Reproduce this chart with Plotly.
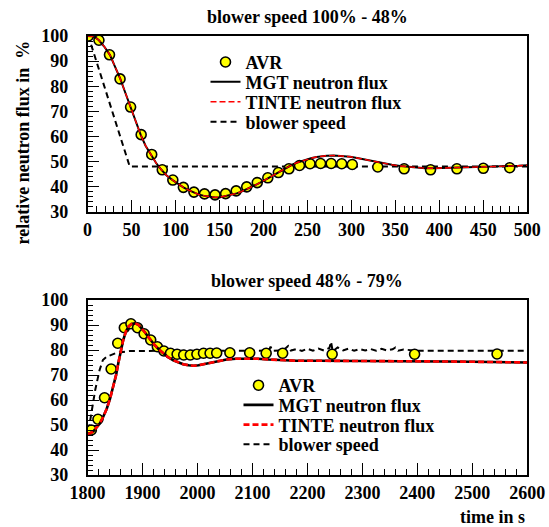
import plotly.graph_objects as go

# ---------------- data: top panel (blower speed 100% -> 48%) ----------------
avr1_t = [1, 13, 25, 37, 49, 61, 73, 85, 97, 109, 121, 133, 145, 157, 169, 181,
          193, 205, 217, 229, 241, 253, 265, 277, 289, 301, 330, 360, 390, 420, 450, 480]
avr1_v = [100.0, 98.3, 92.5, 82.9, 71.7, 60.7, 52.8, 46.7, 42.6, 39.7, 37.8, 37.1,
          36.7, 37.2, 38.3, 39.9, 41.6, 43.5, 45.6, 47.1, 48.4, 49.1, 49.2, 49.2,
          49.1, 48.8, 47.8, 47.1, 46.7, 47.1, 47.3, 47.5]

mgt1_t = [0, 5, 9, 13, 19, 25.6, 31, 37.3, 43, 49, 55, 60.5, 66, 71.8, 78, 84.3, 90,
          96.8, 103, 109, 115, 120.4, 126, 131.7, 138, 145, 151, 158.2, 164, 169.6,
          175, 181, 187, 192.4, 198, 203.7, 209, 215, 221, 226.5, 232, 237.8, 244,
          249.2, 255, 260.6, 266, 272, 280, 288, 298.6, 308, 317.6, 327, 336.5, 346,
          355.3, 365, 374, 384, 393, 405, 419.7, 435, 450, 465, 478.4, 490, 500]
mgt1_v = [100, 99.9, 99.4, 98.3, 95.8, 92.4, 88.0, 82.9, 77.4, 71.6, 66.0, 60.6,
          56.3, 52.9, 49.4, 46.6, 44.4, 42.6, 41.0, 39.7, 38.6, 37.6, 36.9, 36.4,
          36.0, 35.7, 35.8, 36.3, 36.7, 37.3, 38.0, 38.9, 39.9, 40.9, 41.9, 43.0,
          44.1, 45.3, 46.5, 47.7, 48.6, 49.5, 50.3, 50.9, 51.4, 51.8, 52.1, 52.3,
          52.4, 52.2, 51.9, 51.3, 50.6, 49.9, 49.3, 48.7, 48.2, 47.8, 47.5, 47.3,
          47.3, 47.4, 47.5, 47.7, 47.8, 48.0, 48.1, 48.3, 48.5]

tinte1_t = list(mgt1_t)
tinte1_v = list(mgt1_v)

blower1_t = [0, 1, 48, 500]
blower1_v = [100, 100, 48, 48]

# ---------------- data: bottom panel (blower speed 48% -> 79%) ----------------
avr2_t = [1807, 1819, 1831, 1843, 1855, 1867, 1879, 1891, 1903, 1915, 1927, 1939,
          1951, 1963, 1975, 1987, 1999, 2011, 2023, 2035, 2059, 2095, 2125, 2155,
          2245, 2395, 2545]
avr2_v = [48.0, 52.3, 60.9, 72.4, 82.7, 88.9, 90.5, 88.9, 86.5, 84.0, 81.3, 79.6,
          78.7, 78.3, 78.0, 78.0, 78.3, 78.7, 78.7, 78.8, 78.9, 78.9, 78.7, 78.7,
          78.3, 78.3, 78.4]

mgt2_t = [1800, 1805, 1810, 1815, 1822, 1828, 1835, 1841, 1847, 1852, 1856, 1861,
          1865, 1870, 1875, 1880, 1886, 1892, 1898, 1904, 1910, 1916, 1922, 1930,
          1938, 1946, 1956, 1966, 1974, 1984, 1993, 2002, 2011, 2020, 2029, 2040,
          2053, 2070, 2090, 2110, 2130, 2150, 2180, 2220, 2260, 2300, 2350, 2400,
          2450, 2500, 2540, 2560, 2600]
mgt2_v = [46.5, 46.7, 47.3, 48.5, 50.5, 53.0, 56.5, 60.5, 65.3, 70.0, 74.7, 80.0,
          84.0, 87.5, 89.5, 90.4, 90.7, 90.2, 88.8, 87.2, 85.4, 83.6, 82.0, 80.2,
          78.7, 77.2, 75.9, 74.9, 74.3, 73.9, 73.7, 73.9, 74.3, 74.8, 75.3, 75.8,
          76.2, 76.5, 76.6, 76.5, 76.2, 75.9, 75.7, 75.7, 75.7, 75.6, 75.6, 75.4,
          75.4, 75.3, 75.3, 75.1, 75.0]

tinte2_t = list(mgt2_t)
tinte2_v = list(mgt2_v)

blower2_t = [1800, 1803, 1808, 1814, 1822, 1828, 1835, 1853, 1877, 1900, 1950,
             2100, 2130, 2133, 2136, 2150, 2160, 2165, 2170, 2180, 2190, 2200, 2210,
             2220, 2230, 2240, 2243, 2246, 2255, 2265, 2275, 2285, 2295, 2305, 2315,
             2325, 2335, 2345, 2355, 2360, 2365, 2375, 2385, 2400, 2500, 2600]
blower2_v = [48.0, 49.3, 56.0, 64.0, 72.0, 76.0, 77.3, 78.9, 79.6, 79.7, 79.7,
             79.7, 79.8, 81.3, 79.7, 79.8, 80.6, 81.6, 79.8, 80.4, 79.6, 80.5, 79.7,
             80.6, 79.8, 80.8, 83.3, 79.5, 81.0, 79.8, 80.6, 79.7, 80.4, 79.8, 80.4,
             79.7, 80.5, 79.8, 80.3, 81.0, 79.7, 80.2, 79.9, 79.7, 79.7, 79.7]

top_title = "blower speed 100% - 48%"
bottom_title = "blower speed 48% - 79%"
y_title = "relative neutron flux in  %"
x_title = "time in s"
names = ["AVR", "MGT neutron flux", "TINTE neutron flux", "blower speed"]

# ---------------- layout constants ----------------
W, H = 549, 527
FONT = "Liberation Serif"
x0, x1 = 87.5, 527.3
top_y0, top_y1 = 36.0, 211.7
bot_y0, bot_y1 = 300.0, 475.0
top_leg_x, top_leg_rows = 205.5, [62.3, 82.0, 102.0, 122.0]
bot_leg_x, bot_leg_rows = 238.5, [385.5, 405.2, 424.9, 444.6]


def px_x(p):
    return p / W


def px_y(p):
    return 1 - p / H


fig = go.Figure()


def add_panel(xa, ya, legs, t_avr, v_avr, t_m, v_m, t_t, v_t, t_b, v_b, tinte_w, mgt_w):
    fig.add_trace(go.Scatter(x=t_b, y=v_b, mode="lines", name=names[3],
                             line=dict(color="black", width=2, dash="6px,4px"),
                             xaxis=xa, yaxis=ya, legend=legs[3]))
    fig.add_trace(go.Scatter(x=t_avr, y=v_avr, mode="markers", name=names[0],
                             marker=dict(symbol="circle", size=10, color="#ffff00",
                                         line=dict(color="black", width=1.6)),
                             xaxis=xa, yaxis=ya, legend=legs[0]))
    fig.add_trace(go.Scatter(x=t_m, y=v_m, mode="lines", name=names[1],
                             line=dict(color="black", width=mgt_w),
                             xaxis=xa, yaxis=ya, legend=legs[1]))
    fig.add_trace(go.Scatter(x=t_t, y=v_t, mode="lines", name=names[2],
                             line=dict(color="#ff0000", width=tinte_w, dash="6px,3px"),
                             xaxis=xa, yaxis=ya, legend=legs[2]))


add_panel("x", "y", ["legend", "legend2", "legend3", "legend4"],
          avr1_t, avr1_v, mgt1_t, mgt1_v, tinte1_t, tinte1_v,
          blower1_t, blower1_v, 1.4, 2.0)
add_panel("x2", "y2", ["legend5", "legend6", "legend7", "legend8"],
          avr2_t, avr2_v, mgt2_t, mgt2_v, tinte2_t, tinte2_v,
          blower2_t, blower2_v, 2.6, 2.6)

tickfont = dict(family=FONT, size=18, color="black", weight="bold")


def xaxis(rng, dtick, minor, anchor):
    return dict(range=rng, domain=[px_x(x0), px_x(x1)], anchor=anchor,
                showline=True, linecolor="black", linewidth=1.5, mirror=True,
                showgrid=False, zeroline=False,
                ticks="inside", ticklen=12, tickwidth=1, tickcolor="black",
                dtick=dtick, tick0=rng[0],
                minor=dict(ticks="inside", ticklen=6, dtick=minor, tickwidth=1,
                           tickcolor="black", showgrid=False),
                tickfont=tickfont, ticklabelstandoff=1)


def yaxis(dom, anchor):
    return dict(range=[30, 100], domain=dom, anchor=anchor,
                showline=True, linecolor="black", linewidth=1.5, mirror=True,
                showgrid=False, zeroline=False,
                ticks="inside", ticklen=12, tickwidth=1, tickcolor="black",
                dtick=10, tick0=30,
                minor=dict(ticks="inside", ticklen=6, dtick=2, tickwidth=1,
                           tickcolor="black", showgrid=False),
                tickfont=tickfont, ticklabelstandoff=14)


legfont = dict(family=FONT, size=18, color="black", weight="bold")
legends = {}
for i, (lx, ly) in enumerate([(top_leg_x, r) for r in top_leg_rows] +
                             [(bot_leg_x, r) for r in bot_leg_rows]):
    key = "legend" if i == 0 else f"legend{i + 1}"
    legends[key] = dict(x=px_x(lx), y=px_y(ly), xanchor="left", yanchor="middle",
                        font=legfont, bgcolor="rgba(0,0,0,0)", borderwidth=0)

fig.update_layout(
    width=W, height=H,
    showlegend=True,
    margin=dict(l=0, r=0, t=0, b=0, autoexpand=False),
    paper_bgcolor="white", plot_bgcolor="white",
    xaxis=xaxis([0, 500], 50, 10, "y"),
    yaxis=yaxis([px_y(top_y1), px_y(top_y0)], "x"),
    xaxis2=xaxis([1800, 2600], 100, 20, "y2"),
    yaxis2=yaxis([px_y(bot_y1), px_y(bot_y0)], "x2"),
    annotations=[
        dict(text=top_title, x=px_x((x0 + x1) / 2), y=px_y(17), xref="paper", yref="paper",
             showarrow=False, xanchor="center", yanchor="middle",
             font=dict(family=FONT, size=18, color="black", weight="bold")),
        dict(text=bottom_title, x=px_x((x0 + x1) / 2), y=px_y(281), xref="paper", yref="paper",
             showarrow=False, xanchor="center", yanchor="middle",
             font=dict(family=FONT, size=18, color="black", weight="bold")),
        dict(text=y_title, x=px_x(22.5), y=px_y(143), xref="paper", yref="paper",
             showarrow=False, xanchor="center", yanchor="middle", textangle=-90,
             font=dict(family=FONT, size=18, color="black", weight="bold")),
        dict(text=x_title, x=px_x(x1), y=px_y(517), xref="paper", yref="paper",
             showarrow=False, xanchor="right", yanchor="middle",
             font=dict(family=FONT, size=18, color="black", weight="bold")),
    ],
    **legends,
)

fig.write_html("out.html")
